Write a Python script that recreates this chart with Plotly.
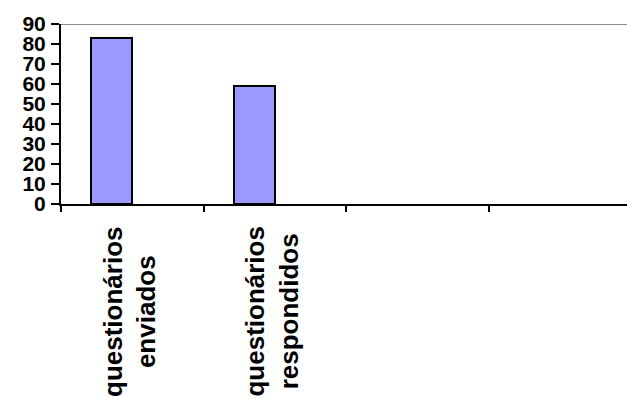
import plotly.graph_objects as go

# Survey counts
categories = ["questionários<br>enviados", "questionários<br>respondidos", "c3", "c4"]
values = [83, 59, None, None]
y_ticks = [0, 10, 20, 30, 40, 50, 60, 70, 80, 90]

bar_w = 0.288

fig = go.Figure()
fig.add_trace(go.Bar(
    x=categories,
    y=values,
    width=bar_w,
    offset=-bar_w,
    marker=dict(color="#9999FF", line=dict(color="black", width=2)),
    showlegend=False,
))

# category names drawn as centred rotated text under each category
for cat in categories[:2]:
    fig.add_annotation(
        x=cat, xref="x", y=-0.115, yref="paper",
        text=f"<b>{cat}</b>", textangle=-90, showarrow=False,
        xanchor="center", yanchor="top", align="center", xshift=-3,
        font=dict(family="Liberation Sans, Arial", size=26, color="black"),
    )

fig.update_layout(
    width=627, height=397,
    margin=dict(l=61, r=0, t=24, b=193),
    plot_bgcolor="white", paper_bgcolor="white",
    bargap=0,
)
fig.update_xaxes(
    type="category", categoryorder="array", categoryarray=categories,
    range=[-0.5, 3.47],
    showticklabels=False,
    tickson="boundaries", ticks="outside", ticklen=6, tickwidth=2, tickcolor="black",
    showline=True, linecolor="black", linewidth=2,
    showgrid=False, zeroline=False,
)
fig.update_yaxes(
    range=[0, 90], tickvals=y_ticks,
    ticks="outside", ticklen=8, tickwidth=2, tickcolor="black",
    showline=True, linecolor="black", linewidth=2,
    showgrid=False, zeroline=False,
    tickfont=dict(family="Liberation Sans, Arial", size=21, color="black", weight="bold"),
    ticklabelstandoff=1,
)
# gray top boundary at 90
fig.add_hline(y=90, line=dict(color="#8c8c8c", width=2))

fig.write_html("out.html")
